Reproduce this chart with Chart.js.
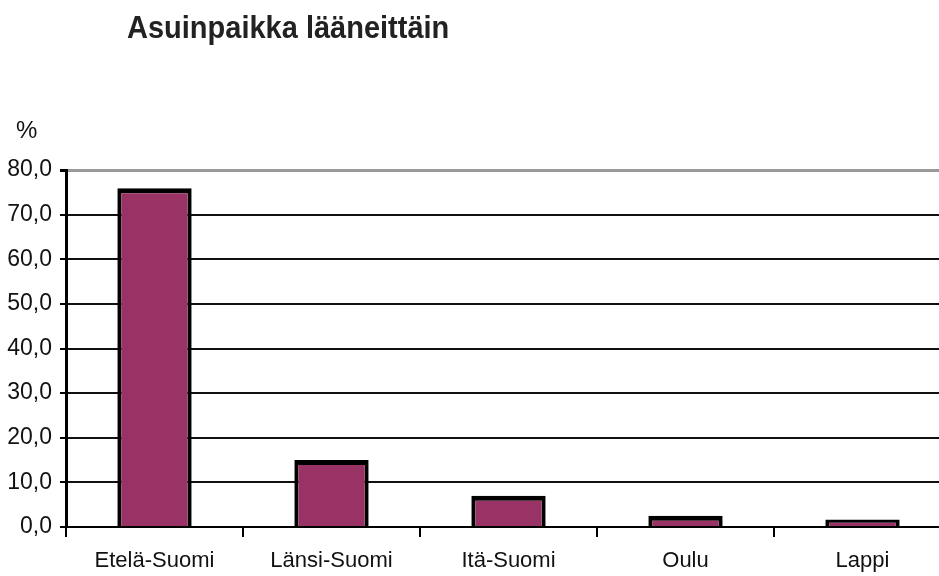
<!DOCTYPE html>
<html>
<head>
<meta charset="utf-8">
<script src="https://cdn.jsdelivr.net/npm/chart.js@4.4.0/dist/chart.umd.min.js"></script>
<style>
  html, body { margin: 0; padding: 0; background: #fff; overflow: hidden; width: 939px; height: 576px; }
  #wrap { position: relative; width: 939px; height: 576px; overflow: hidden; }
  canvas { position: absolute; left: 0; top: 0; }
  #title { position: absolute; left: 127px; top: 10px; font: bold 29px "Liberation Sans", Arial, sans-serif; color: #222; white-space: nowrap; transform: scaleY(1.08); transform-origin: left top; }
  #unit { position: absolute; left: 16px; top: 116px; font: 24px "Liberation Sans", Arial, sans-serif; color: #111; }
</style>
</head>
<body>
<div id="wrap">
  <canvas id="c" width="960" height="576"></canvas>
  <div id="title">Asuinpaikka lääneittäin</div>
  <div id="unit">%</div>
</div>
<script>
const categories = ["Etelä-Suomi", "Länsi-Suomi", "Itä-Suomi", "Oulu", "Lappi"];
const values = [75.9, 15.0, 7.0, 2.5, 1.7];
const yMin = 0, yMax = 80, yStep = 10;

new Chart(document.getElementById('c'), {
  type: 'bar',
  data: {
    labels: categories,
    datasets: [{
      data: values,
      backgroundColor: '#993366',
      borderColor: '#000',
      borderWidth: { top: 5, left: 4, right: 4, bottom: 0 },
      borderSkipped: 'start',
      barPercentage: 0.42,
      categoryPercentage: 1.0
    }]
  },
  options: {
    responsive: false,
    animation: false,
    devicePixelRatio: 1,
    layout: { padding: { top: 170, right: 9, left: 0, bottom: 0 } },
    plugins: { legend: { display: false }, tooltip: { enabled: false }, title: { display: false } },
    scales: {
      x: {
        offset: true,
        grid: { display: true, drawOnChartArea: false, offset: true, tickLength: 10, color: '#000', lineWidth: 2 },
        border: { display: true, color: '#000', width: 2 },
        ticks: { color: '#111', padding: 11, font: { family: '"Liberation Sans", Arial, sans-serif', size: 22 }, maxRotation: 0 },
        afterFit: s => { s.height = 49; }
      },
      y: {
        min: yMin, max: yMax,
        grid: {
          color: c => (c.tick && c.tick.value === yMax) ? '#9a9a9a' : '#111',
          lineWidth: c => (c.tick && c.tick.value === yMax) ? 3 : 2,
          tickLength: 6,
          tickColor: '#000'
        },
        border: { display: true, color: '#000', width: 3 },
        ticks: {
          stepSize: yStep,
          color: '#111',
          padding: 8,
          font: { family: '"Liberation Sans", Arial, sans-serif', size: 23 },
          callback: v => v.toFixed(1).replace('.', ',')
        },
        afterFit: s => { s.width = 66; }
      }
    }
  }
});
</script>
</body>
</html>
